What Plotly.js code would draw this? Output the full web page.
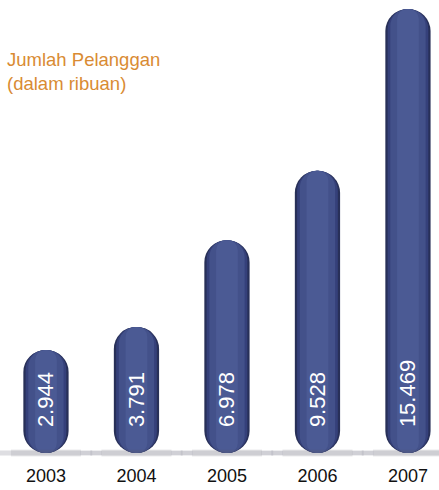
<!DOCTYPE html>
<html><head><meta charset="utf-8">
<script src="https://cdn.plot.ly/plotly-3.0.1.min.js"></script>
<style>html,body{margin:0;padding:0;background:#fff;}#chart{width:439px;height:490px;}</style>
</head><body><div id="chart"></div>
<script>
const years = ['2003', '2004', '2005', '2006', '2007'];
const subscribers = [2.944, 3.791, 6.978, 9.528, 15.469];
const valueLabels = ['2.944', '3.791', '6.978', '9.528', '15.469'];
const titleText = 'Jumlah Pelanggan<br>(dalam ribuan)';

const capDepth = 0.84; // rounded bottom cap below the baseline
const pillLength = subscribers.map(v => v + capDepth);
const floor = years.map(() => -capDepth);

const layers = [
  {w: 0.50, c: '#283058'},
  {w: 0.45, c: '#35407a'},
  {w: 0.39, c: '#43518a'},
  {w: 0.24, c: '#4b5a94'}
];

const traces = [];
// soft shadow under each pill
[{s: 80, w: 4, a: 0.10}, {s: 66, w: 6, a: 0.10}, {s: 50, w: 7, a: 0.12}].forEach(S => {
  traces.push({
    type: 'scatter', mode: 'markers', x: years, y: floor,
    marker: {symbol: 'line-ew', size: S.s, line: {width: S.w, color: 'rgba(90,90,110,' + S.a + ')'}},
    hoverinfo: 'skip', showlegend: false, cliponaxis: false
  });
});
layers.forEach(L => {
  traces.push({type: 'bar', x: years, y: pillLength, base: -capDepth, width: L.w,
    marker: {color: L.c, cornerradius: '50%', line: {width: 0}}, hoverinfo: 'skip', showlegend: false});
});
traces.push({type: 'bar', x: years, y: subscribers, base: 0, width: 0.5,
  marker: {color: 'rgba(0,0,0,0)', line: {width: 0}},
  text: valueLabels, textposition: 'inside', insidetextanchor: 'start', textangle: -90,
  textfont: {family: 'Liberation Sans, Arial, sans-serif', size: 22, color: '#ffffff'},
  cliponaxis: false, hoverinfo: 'skip', showlegend: false});

const layout = {
  width: 439, height: 490,
  margin: {l: 0, r: 0, t: 5, b: 27},
  paper_bgcolor: '#ffffff', plot_bgcolor: '#ffffff',
  barmode: 'overlay',
  showlegend: false,
  title: {text: titleText, x: 0.016, xref: 'container', xanchor: 'left', y: 0.866, yref: 'container', yanchor: 'top',
    font: {family: 'Liberation Sans, Arial, sans-serif', size: 18.5, color: '#d98b33'}},
  xaxis: {type: 'category', range: [-0.508, 4.343], showgrid: false, zeroline: false, showline: false,
    ticks: '', tickfont: {family: 'Liberation Sans, Arial, sans-serif', size: 18, color: '#111111'}, fixedrange: true},
  yaxis: {range: [-1.208, 15.62], visible: false, showgrid: false, zeroline: false, fixedrange: true}
};
Plotly.newPlot('chart', traces, layout, {displayModeBar: false, staticPlot: true});
</script></body></html>
